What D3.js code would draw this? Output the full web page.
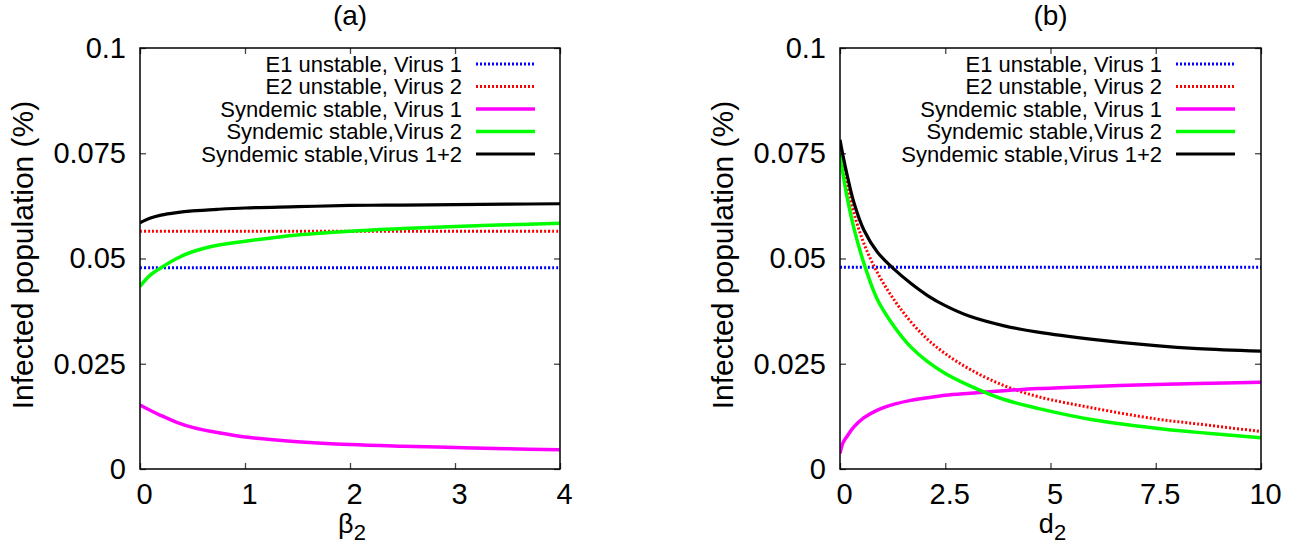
<!DOCTYPE html>
<html>
<head>
<meta charset="utf-8">
<script src="https://cdn.jsdelivr.net/npm/d3@7"></script>
<style>
  html, body { margin: 0; padding: 0; background: #fff; }
  svg { display: block; font-family: "Liberation Sans", Arial, sans-serif; }
</style>
</head>
<body>
<svg id="chart" width="1297" height="548"></svg>
<script>
// ---------------- Data ----------------
const seriesNames = [
  "E1 unstable, Virus 1",
  "E2 unstable, Virus 2",
  "Syndemic stable, Virus 1",
  "Syndemic stable,Virus 2",
  "Syndemic stable,Virus 1+2"
];
const yTicks = [0, 0.025, 0.05, 0.075, 0.1];
const yTickLabels = ["0", "0.025", "0.05", "0.075", "0.1"];

// Panel (a): x = beta_2
const aTicks = [0, 1, 2, 3, 4];
const aTickLabels = ["0", "1", "2", "3", "4"];
const aX       = [0, 0.1, 0.2, 0.35, 0.5, 0.75, 1, 1.5, 2, 2.5, 3, 3.5, 4];
const aE1      = [0.0478, 0.0478, 0.0478, 0.0478, 0.0478, 0.0478, 0.0478, 0.0478, 0.0478, 0.0478, 0.0478, 0.0478, 0.0478];
const aE2      = [0.0565, 0.0565, 0.0565, 0.0565, 0.0565, 0.0565, 0.0565, 0.0565, 0.0565, 0.0565, 0.0565, 0.0565, 0.0565];
const aVirus1  = [0.0152, 0.0139, 0.0127, 0.0111, 0.0099, 0.0086, 0.0076, 0.0065, 0.0058, 0.0054, 0.0051, 0.0048, 0.0046];
const aVirus2  = [0.0434, 0.0461, 0.0478, 0.0500, 0.0516, 0.0532, 0.0541, 0.0556, 0.0565, 0.0571, 0.0576, 0.0580, 0.0584];
const aVirus12 = [0.0585, 0.0596, 0.0603, 0.0609, 0.0613, 0.0617, 0.0620, 0.0623, 0.0626, 0.0627, 0.0628, 0.0629, 0.0630];

// Panel (b): x = d_2
const bTicks = [0, 2.5, 5, 7.5, 10];
const bTickLabels = ["0", "2.5", "5", "7.5", "10"];
const bX       = [0, 0.07, 0.17, 0.33, 0.57, 0.89, 1.29, 1.68, 2.08, 2.5, 3.1, 3.9, 4.7, 6, 7.5, 8.5, 10];
const bE1      = [0.0479, 0.0479, 0.0479, 0.0479, 0.0479, 0.0479, 0.0479, 0.0479, 0.0479, 0.0479, 0.0479, 0.0479, 0.0479, 0.0479, 0.0479, 0.0479, 0.0479];
const bE2      = [0.0768, 0.0728, 0.0672, 0.0608, 0.0535, 0.0466, 0.0401, 0.0350, 0.0308, 0.0274, 0.0236, 0.0198, 0.0172, 0.0145, 0.0119, 0.0107, 0.0089];
const bVirus1  = [0.0037, 0.0062, 0.0078, 0.0100, 0.0122, 0.0140, 0.0154, 0.0163, 0.0169, 0.0175, 0.0180, 0.0186, 0.0191, 0.0196, 0.0201, 0.0203, 0.0206];
const bVirus2  = [0.0749, 0.0702, 0.0645, 0.0572, 0.0488, 0.0402, 0.0338, 0.0290, 0.0255, 0.0227, 0.0197, 0.0165, 0.0144, 0.0117, 0.0097, 0.0087, 0.0074];
const bVirus12 = [0.0782, 0.0745, 0.0698, 0.0633, 0.0567, 0.0515, 0.0474, 0.0441, 0.0412, 0.0388, 0.0362, 0.0340, 0.0325, 0.0308, 0.0293, 0.0286, 0.0280];

// ---------------- Styles ----------------
const seriesStyles = [
  { color: "#0000ff", width: 3,   dash: "2,2" },
  { color: "#ff0000", width: 3,   dash: "2,2" },
  { color: "#ff00ff", width: 3.5, dash: null },
  { color: "#00ff00", width: 3.5, dash: null },
  { color: "#000000", width: 3.2, dash: null }
];

const panels = [
  { title: "(a)", xSym: "\u03B2", xSub: "2", left: 140, right: 560, domain: [0, 4],
    ticks: aTicks, tickLabels: aTickLabels, x: aX, series: [aE1, aE2, aVirus1, aVirus2, aVirus12] },
  { title: "(b)", xSym: "d", xSub: "2", left: 840, right: 1261, domain: [0, 10],
    ticks: bTicks, tickLabels: bTickLabels, x: bX, series: [bE1, bE2, bVirus1, bVirus2, bVirus12] }
];

const plotTop = 48, plotBottom = 469;
const svg = d3.select("#chart");

panels.forEach((p, pi) => {
  const xs = d3.scaleLinear().domain(p.domain).range([p.left, p.right]);
  const ys = d3.scaleLinear().domain([0, 0.1]).range([plotBottom, plotTop]);
  const cx = (p.left + p.right) / 2;

  const clipId = "clip" + pi;
  svg.append("clipPath").attr("id", clipId)
    .append("rect").attr("x", p.left).attr("y", plotTop)
    .attr("width", p.right - p.left).attr("height", plotBottom - plotTop);

  // axes (inward ticks, mirrored)
  const gB = svg.append("g").attr("transform", `translate(0,${plotBottom})`)
    .call(d3.axisBottom(xs).tickValues(p.ticks).tickSize(-6).tickPadding(14)
      .tickFormat((d, i) => p.tickLabels[i]));
  gB.selectAll("text").attr("font-size", 29).attr("fill", "#000")
    .attr("font-family", "'Liberation Sans', Arial, sans-serif").attr("dx", 4);
  const gT = svg.append("g").attr("transform", `translate(0,${plotTop})`)
    .call(d3.axisTop(xs).tickValues(p.ticks).tickSize(-6).tickFormat(""));
  const gL = svg.append("g").attr("transform", `translate(${p.left},0)`)
    .call(d3.axisLeft(ys).tickValues(yTicks).tickSize(-6).tickPadding(14)
      .tickFormat((d, i) => yTickLabels[i]));
  gL.selectAll("text").attr("font-size", 29).attr("fill", "#000")
    .attr("font-family", "'Liberation Sans', Arial, sans-serif");
  const gR = svg.append("g").attr("transform", `translate(${p.right},0)`)
    .call(d3.axisRight(ys).tickValues(yTicks).tickSize(-6).tickFormat(""));
  [gB, gT, gL, gR].forEach(g => {
    g.select(".domain").remove();
    g.selectAll(".tick line").attr("stroke", "#444").attr("stroke-width", 1.3);
  });

  // curves
  const line = d3.line().curve(d3.curveCatmullRom.alpha(0.5))
    .x(d => xs(d[0])).y(d => ys(d[1]));
  p.series.forEach((vals, si) => {
    const st = seriesStyles[si];
    const pts = p.x.map((xv, k) => [xv, vals[k]]);
    svg.append("path").datum(pts)
      .attr("clip-path", `url(#${clipId})`)
      .attr("d", line)
      .attr("fill", "none")
      .attr("stroke", st.color)
      .attr("stroke-width", st.width)
      .attr("stroke-dasharray", st.dash)
      .attr("stroke-linejoin", "round");
  });

  // frame
  svg.append("rect").attr("x", p.left).attr("y", plotTop)
    .attr("width", p.right - p.left).attr("height", plotBottom - plotTop)
    .attr("fill", "none").attr("stroke", "#000").attr("stroke-width", 1.5);

  // legend
  const legY = [64, 86.5, 109, 131.5, 154];
  seriesNames.forEach((name, si) => {
    const st = seriesStyles[si];
    svg.append("text").attr("x", p.left + 322).attr("y", legY[si] + 7.7)
      .attr("text-anchor", "end").attr("font-size", 22).attr("fill", "#000")
      .text(name);
    svg.append("line").attr("x1", p.left + 336).attr("x2", p.left + 395)
      .attr("y1", legY[si]).attr("y2", legY[si])
      .attr("stroke", st.color).attr("stroke-width", st.width)
      .attr("stroke-dasharray", st.dash);
  });

  // title
  svg.append("text").attr("x", cx).attr("y", 25).attr("text-anchor", "middle")
    .attr("font-size", 28).attr("fill", "#000").text(p.title);

  // y label
  svg.append("text")
    .attr("transform", `translate(${p.left - 107},255) rotate(-90)`)
    .attr("text-anchor", "middle").attr("font-size", 30).attr("fill", "#000")
    .text("Infected population (%)");

  // x label
  const xl = svg.append("text").attr("x", cx + 2).attr("y", 533)
    .attr("text-anchor", "middle").attr("font-size", 27).attr("fill", "#000");
  xl.append("tspan").text(p.xSym);
  xl.append("tspan").attr("dy", 7).attr("font-size", 22).text(p.xSub);
});
</script>
</body>
</html>
